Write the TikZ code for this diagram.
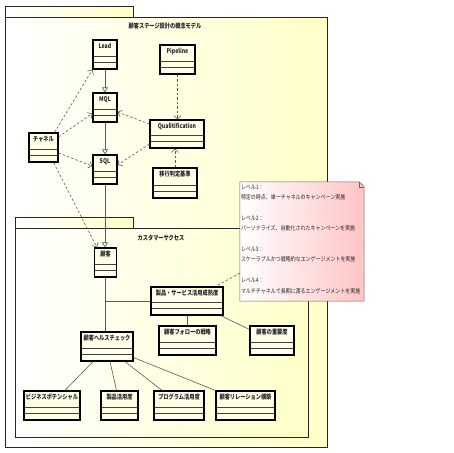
\documentclass[tikz,border=0pt]{standalone}
\usepackage{fontspec}
\usepackage{graphicx}
\setmainfont{Noto Sans CJK JP}
\usetikzlibrary{arrows.meta}
\definecolor{pkgyellow}{RGB}{255,255,200}
\definecolor{clsfill}{RGB}{255,255,232}
\definecolor{notepink}{RGB}{255,196,196}
\definecolor{linegray}{RGB}{90,90,90}
\newcommand\cn[1]{\scalebox{0.8}[1]{#1}}
\newcommand\nl[1]{\scalebox{0.83}[1]{#1}}
\tikzset{
  pkg/.style={draw=black!85, line width=0.9pt, left color=white, right color=pkgyellow},
  cls/.style={draw=black, line width=1.2pt, fill=clsfill, rectangle, inner sep=0pt,
    path picture={
      \draw[line width=0.5pt, black!75] ([yshift=6.5pt]path picture bounding box.south west) -- ([yshift=6.5pt]path picture bounding box.south east);
      \draw[line width=0.5pt, black!75] ([yshift=13pt]path picture bounding box.south west) -- ([yshift=13pt]path picture bounding box.south east);
    }},
  clslabel/.style={anchor=north, inner sep=0pt, yshift=-3.6pt, font=\bfseries\fontsize{6.5}{7}\selectfont, text=black!85},
  gen/.style={draw=linegray, line width=0.6pt, -{Triangle[open, length=5pt, width=6pt]}},
  assoc/.style={draw=linegray, line width=0.6pt},
  dep/.style={draw=linegray, line width=0.6pt, dash pattern=on 2.5pt off 2pt, -{Straight Barb[length=3.5pt, width=7pt]}},
  anchorline/.style={draw=linegray, line width=0.6pt, dash pattern=on 2.5pt off 2pt},
  pkgtitle/.style={inner sep=0pt, font=\bfseries\fontsize{6.5}{7}\selectfont, text=black!85},
}
\newcommand\umlcls[6]{\node[cls, minimum width=#4pt, minimum height=#5pt, label={[clslabel]north:\cn{#6}}] (#1) at (#2,#3) {};}
\begin{document}
\begin{tikzpicture}[x=1pt, y=-1pt]
\useasboundingbox (0,0) rectangle (453,453);
\fill[white] (0,0) rectangle (453,453);
% outer package
\path[pkg] (5,17) rectangle (327,447);
\path[pkg] (5,6) rectangle (133,17);
\node[pkgtitle] (title1) at (165,26) {\cn{顧客ステージ設計の概念モデル}};
% inner package
\path[pkg] (15,228) rectangle (308,437);
\path[pkg] (15,217) rectangle (133,228);
\node[pkgtitle] (title2) at (161,237.5) {\cn{カスタマーサクセス}};
% classes
\umlcls{lead}{105}{54.5}{24}{29}{Lead}
\umlcls{pipe}{177.5}{59.5}{35}{29}{Pipeline}
\umlcls{mql}{105}{107.5}{24}{29}{MQL}
\umlcls{qual}{177}{134}{54}{28}{Qualitification}
\umlcls{chan}{43.5}{147.5}{29}{29}{チャネル}
\umlcls{sql}{105}{169.5}{24}{29}{SQL}
\umlcls{crit}{175}{183}{44}{30}{移行判定基準}
\umlcls{kok}{105.5}{262.5}{22}{29}{顧客}
\umlcls{seihin}{187}{301}{72}{28}{製品・サービス活用成熟度}
\umlcls{follow}{187.5}{340.5}{57}{29}{顧客フォローの戦略}
\umlcls{juyo}{272}{340.5}{44}{29}{顧客の重要度}
\umlcls{health}{107}{346.5}{52}{29}{顧客ヘルスチェック}
\umlcls{biz}{52}{405.5}{56}{29}{ビジネスポテンシャル}
\umlcls{katsu}{119.5}{405.5}{37}{29}{製品活用度}
\umlcls{prog}{179}{405.5}{50}{29}{プログラム活用度}
\umlcls{rel}{245.5}{405.5}{59}{29}{顧客リレーション構築}
% generalizations
\draw[gen] (lead.south) -- (mql.north);
\draw[gen] (mql.south) -- (sql.north);
\draw[gen] (sql.south) -- (sql.south |- kok.north);
% dependencies
\draw[dep] ([xshift=-4pt]chan.north east) -- (lead.south west);
\draw[dep] (chan.35) -- (mql.205);
\draw[dep] (chan.-20) -- (sql.165);
\draw[dep] ([xshift=-5pt]chan.south east) -- ([xshift=3pt]kok.north west);
\draw[dep] (pipe.south) -- (pipe.south |- qual.north);
\draw[dep] (qual.160) -- (mql.-20);
\draw[dep] (qual.200) -- (sql.20);
\draw[dep] (crit.north) -- (crit.north |- qual.south);
% associations
\coordinate (junc) at (kok.south |- seihin.west);
\draw[assoc] (kok.south) -- (kok.south |- health.north);
\draw[assoc] (junc) -- (seihin.west);
\draw[assoc] (seihin.south) -- (seihin.south |- follow.north);
\draw[assoc] ([xshift=-3pt]seihin.south east) -- ([yshift=-4pt]juyo.north west);
\draw[assoc] ([xshift=-14pt]health.south) -- ([xshift=13pt]biz.north);
\draw[assoc] ([xshift=3pt]health.south) -- ([xshift=-3pt]katsu.north);
\draw[assoc] ([xshift=18pt]health.south) -- ([xshift=-17pt]prog.north);
\draw[assoc] ([yshift=4pt]health.south east) -- (rel.north west);
% note
\node[minimum width=124pt, minimum height=119pt, inner sep=0pt] (note) at (302,241.5) {};
\path[draw=black!60, line width=0.5pt, left color=white, right color=notepink]
  (note.south west) -- (note.north west) -- ([xshift=-5pt]note.north east) -- ([yshift=-5pt]note.north east) -- (note.south east) -- cycle;
\draw[black!60, line width=0.5pt] ([xshift=-5pt]note.north east) -- ([xshift=-5pt,yshift=-5pt]note.north east) -- ([yshift=-5pt]note.north east);
\node[anchor=north west, inner sep=0pt, align=left, text=black!85, font=\fontsize{6}{10.4}\selectfont] (notetext) at ([xshift=1pt, yshift=-2.5pt]note.north west)
 {\nl{レベル1：}\\ \nl{特定の時点、単一チャネルのキャンペーン実施}\\[10.4pt]
  \nl{レベル2：}\\ \nl{パーソナライズ、自動化されたキャンペーンを実施}\\[10.4pt]
  \nl{レベル3：}\\ \nl{スケーラブルかつ戦略的なエンゲージメントを実施}\\[10.4pt]
  \nl{レベル4：}\\ \nl{マルチチャネルで長期に渡るエンゲージメントを実施}};
\draw[anchorline] ([yshift=28pt]note.south west) -- ([xshift=-8pt]seihin.north east);
\end{tikzpicture}
\end{document}
